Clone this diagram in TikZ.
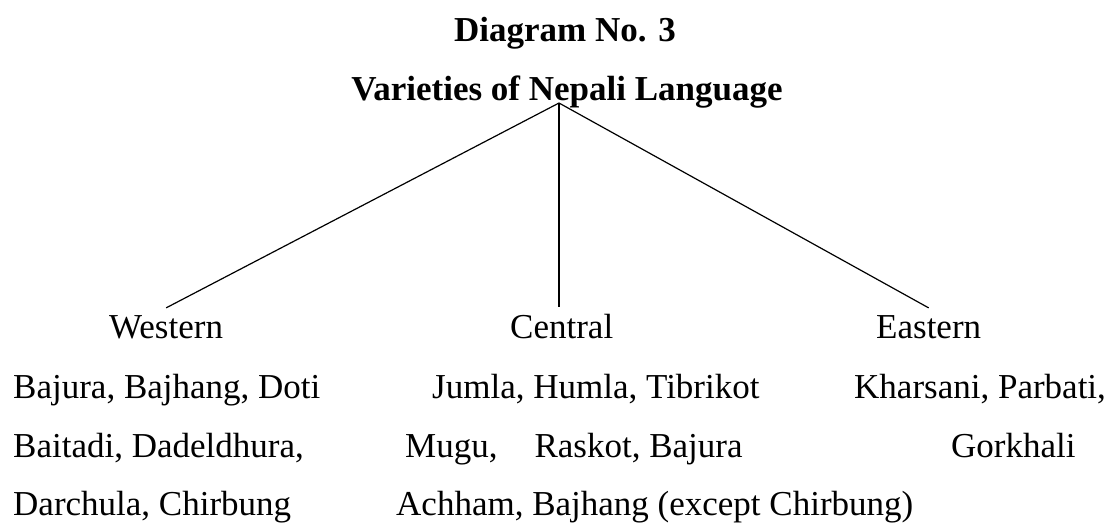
\documentclass[tikz,border=0pt]{standalone}
\usepackage{fontspec}
\setmainfont{Liberation Serif}
\begin{document}
\begin{tikzpicture}[x=1pt,y=-1pt,
  txt/.style={anchor=base west,inner sep=0pt,font=\fontsize{35}{42}\selectfont},
  ttl/.style={anchor=base,inner sep=0pt,font=\fontsize{35}{42}\selectfont\bfseries},
  branch/.style={anchor=base west,inner xsep=0pt,inner ysep=7pt,font=\fontsize{35}{42}\selectfont},
  conn/.style={line width=1.2pt,black}]
\useasboundingbox (0,0) rectangle (1118,523);
% titles
\node[ttl] (title1) at (565,41) {Diagram No. 3};
\node[ttl] (title2) at (567,100) {Varieties of Nepali Language};
\coordinate (apex) at (559,103);
% branches
\node[branch] (western) at (109,338) {Western};
\node[branch] (central) at (510,338) {Central};
\node[branch] (eastern) at (876,338) {Eastern};
\draw[conn] (apex) -- (western.north);
\draw[conn] (apex) -- (apex |- central.north);
\draw[conn] (apex) -- (eastern.north);
% western list
\node[txt] (w1) at (13,398) {Bajura, Bajhang, Doti};
\node[txt] (w2) at (13,457) {Baitadi, Dadeldhura,};
\node[txt] (w3) at (13,515) {Darchula, Chirbung};
% central list
\node[txt] (c1) at (432,398) {Jumla, Humla, Tibrikot};
\node[txt] (c2) at (405,457) {Mugu,\hspace{37pt}Raskot, Bajura};
\node[txt] (c3) at (396,515) {Achham, Bajhang (except Chirbung)};
% eastern list
\node[txt] (e1) at (854,398) {Kharsani, Parbati,};
\node[txt] (e2) at (951,457) {Gorkhali};
\end{tikzpicture}
\end{document}
